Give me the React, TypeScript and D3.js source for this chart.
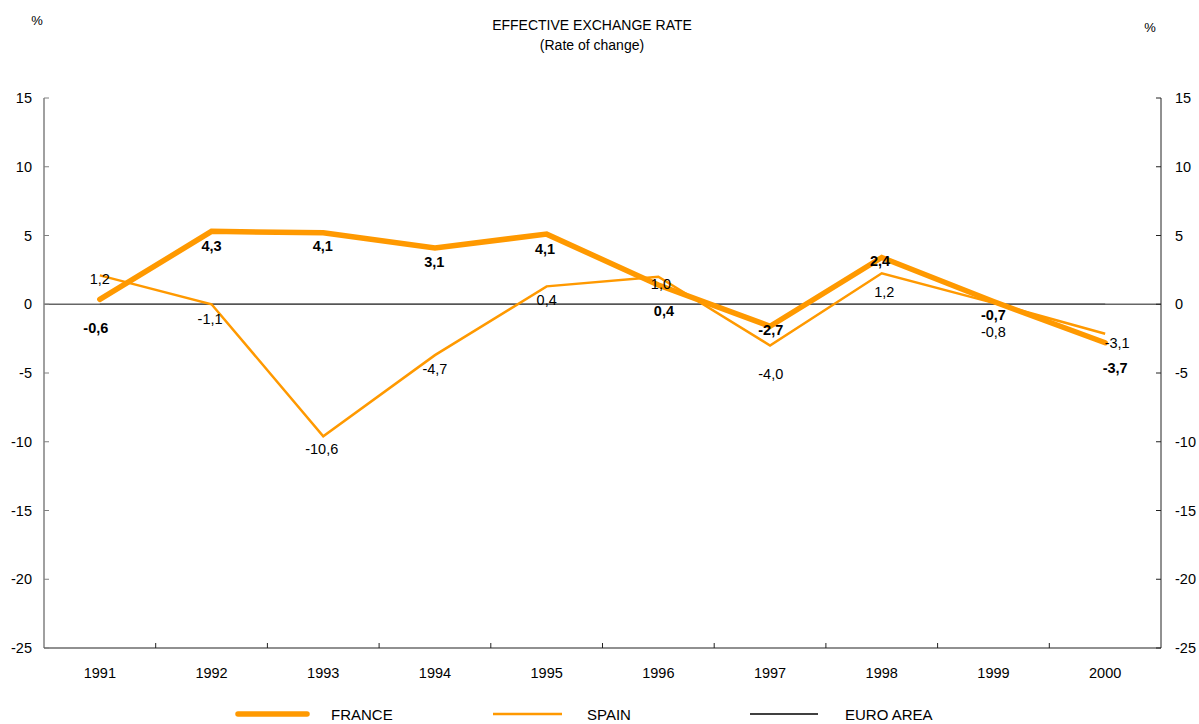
import React from "react";
import * as d3 from "d3";

const years = ["1991", "1992", "1993", "1994", "1995", "1996", "1997", "1998", "1999", "2000"];
// plotted positions (relative to euro area)
const franceValues = [0.35, 5.3, 5.2, 4.1, 5.1, 1.4, -1.6, 3.4, 0.2, -2.8];
const spainValues = [2.1, 0.0, -9.6, -3.7, 1.3, 2.0, -3.0, 2.25, 0.1, -2.15];
const euroValues = [0, 0, 0, 0, 0, 0, 0, 0, 0, 0];
// data labels shown
const franceLabels = [-0.6, 4.3, 4.1, 3.1, 4.1, 0.4, -2.7, 2.4, -0.7, -3.7];
const spainLabels = [1.2, -1.1, -10.6, -4.7, 0.4, 1.0, -4.0, 1.2, -0.8, -3.1];
const yTicks = [15, 10, 5, 0, -5, -10, -15, -20, -25];

// label placement offsets (px) relative to the point
const franceLabelDx = [-4, 0, -0.5, -0.7, -1.6, 5.6, 0.7, -1.7, 0, 10];
const franceLabelDy = [28.7, 15, 13.7, 14, 15.3, 25.7, 3.3, 3.4, 13.3, 25.6];
const spainLabelDx = [0, -1.5, -1.5, 0, 0, 2.6, 0.7, 2.5, 0, 12];
const spainLabelDy = [4, 14.7, 13, 14, 14, 7.3, 28.3, 19, 29, 8.7];

const W = 1199;
const H = 724;
const L = 44;
const R = 1161;
const T = 98;
const B = 648;
const ORANGE = "#FF9900";
const FONT = "'Liberation Sans', Arial, sans-serif";

const fmt = (v: number) => d3.format(".1f")(v).replace(".", ",").replace("−", "-");

export default function App() {
  const x = d3.scaleBand<string>().domain(years).range([L, R]).padding(0);
  const y = d3.scaleLinear().domain([-25, 15]).range([B, T]);
  const cx = (i: number) => (x(years[i]) as number) + x.bandwidth() / 2;
  const line = d3
    .line<number>()
    .x((_, i) => cx(i))
    .y((d) => y(d));

  return (
    <div style={{ position: "absolute", left: 0, top: 0 }}>
      <svg width={W} height={H} style={{ display: "block", background: "#fff" }} fontFamily={FONT}>
        <rect x={0} y={0} width={W} height={H} fill="#fff" />
        {/* titles */}
        <text x={592} y={30} textAnchor="middle" fontSize={14}>EFFECTIVE EXCHANGE RATE</text>
        <text x={592} y={50} textAnchor="middle" fontSize={14}>(Rate of change)</text>
        <text x={37} y={25} textAnchor="middle" fontSize={13}>%</text>
        <text x={1150} y={32} textAnchor="middle" fontSize={13}>%</text>

        {/* axes */}
        <line x1={L} x2={R} y1={y(0)} y2={y(0)} stroke="#666" strokeWidth={1.3} />
        <line x1={L} x2={L} y1={T} y2={B} stroke="#808080" strokeWidth={1.5} />
        <line x1={R} x2={R} y1={T} y2={B} stroke="#222" strokeWidth={1} />
        <line x1={L} x2={R} y1={B} y2={B} stroke="#222" strokeWidth={1.2} />
        {yTicks.map((t) => (
          <g key={t}>
            <line x1={L} x2={L + 5} y1={y(t)} y2={y(t)} stroke="#808080" strokeWidth={1} />
            <line x1={R - 5} x2={R} y1={y(t)} y2={y(t)} stroke="#222" strokeWidth={1} />
            <text x={32} y={y(t) + 5} textAnchor="end" fontSize={14.5}>{t}</text>
            <text x={1175} y={y(t) + 5} textAnchor="start" fontSize={14.5}>{t}</text>
          </g>
        ))}
        {years.map((yr, i) => (
          <g key={yr}>
            {i > 0 && (
              <line x1={x(yr) as number} x2={x(yr) as number} y1={B} y2={B - 5} stroke="#222" strokeWidth={1} />
            )}
            <text x={cx(i)} y={678} textAnchor="middle" fontSize={14.5}>{yr}</text>
          </g>
        ))}

        {/* euro area */}
        <path d={line(euroValues) || ""} fill="none" stroke="#555" strokeWidth={1.3} />

        {/* series */}
        <path d={line(spainValues) || ""} fill="none" stroke={ORANGE} strokeWidth={2.5} strokeLinejoin="miter" />
        <path d={line(franceValues) || ""} fill="none" stroke={ORANGE} strokeWidth={5.5} strokeLinecap="round" strokeLinejoin="miter" />

        {/* labels */}
        {spainValues.map((v, i) => (
          <text key={"s" + i} x={cx(i) + spainLabelDx[i]} y={y(v) + spainLabelDy[i] + 5} textAnchor="middle" fontSize={14.5}>
            {fmt(spainLabels[i])}
          </text>
        ))}
        {franceValues.map((v, i) => (
          <text key={"f" + i} x={cx(i) + franceLabelDx[i]} y={y(v) + franceLabelDy[i] + 5} textAnchor="middle" fontSize={14.5} fontWeight="bold">
            {fmt(franceLabels[i])}
          </text>
        ))}

        {/* legend */}
        <line x1={238} x2={307} y1={714} y2={714} stroke={ORANGE} strokeWidth={5.5} strokeLinecap="round" />
        <text x={331} y={720} fontSize={15}>FRANCE</text>
        <line x1={493} x2={562} y1={714} y2={714} stroke={ORANGE} strokeWidth={2.5} />
        <text x={587} y={720} fontSize={15}>SPAIN</text>
        <line x1={750} x2={818} y1={714} y2={714} stroke="#000" strokeWidth={1.5} />
        <text x={845} y={720} fontSize={15}>EURO AREA</text>
      </svg>
    </div>
  );
}
